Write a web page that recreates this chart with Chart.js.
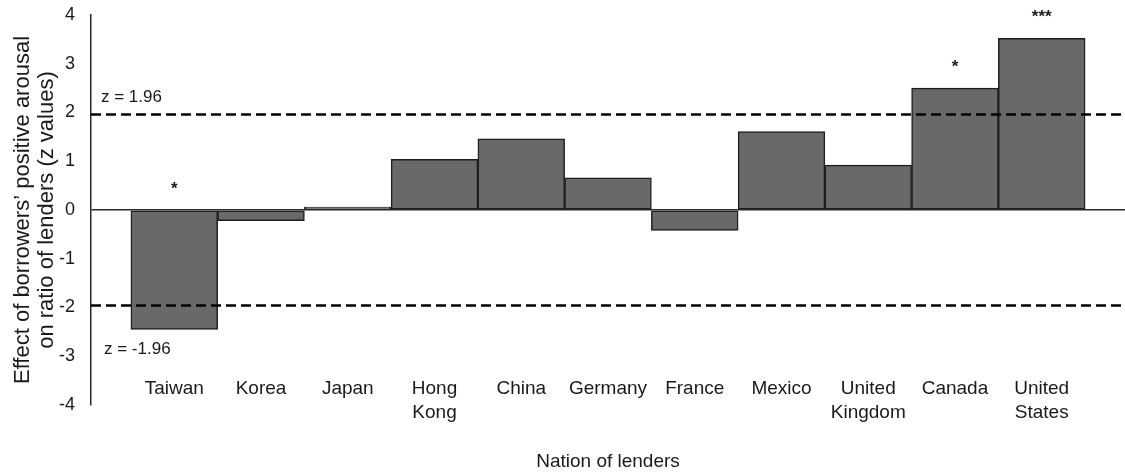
<!DOCTYPE html>
<html>
<head>
<meta charset="utf-8">
<script src="https://cdn.jsdelivr.net/npm/chart.js@4.4.1/dist/chart.umd.min.js"></script>
<style>
  html, body { margin: 0; padding: 0; background: #fff; }
  #wrap { width: 1125px; height: 473px; }
</style>
</head>
<body>
<div id="wrap"><canvas id="zChart"></canvas></div>
<script>
// data
const nations = [['Taiwan'], ['Korea'], ['Japan'], ['Hong', 'Kong'], ['China'], ['Germany'],
                 ['France'], ['Mexico'], ['United', 'Kingdom'], ['Canada'], ['United', 'States']];
const zValues = [-2.45, -0.22, 0.06, 1.04, 1.46, 0.66, -0.42, 1.61, 0.92, 2.50, 3.52];
const sigMarks = ['*', '', '', '', '', '', '', '', '', '*', '***'];
const thresholds = [1.96, -1.96];
const yTicks = [-4, -3, -2, -1, 0, 1, 2, 3, 4];

const FONT = '"Liberation Sans", Arial, sans-serif';

// dashed z lines, their labels and the stars above the bars
const annotations = {
    id: 'annotations',
    afterDatasetsDraw(chart) {
        const { ctx, chartArea, scales } = chart;
        const y = scales.y, x = scales.x;
        ctx.save();
        ctx.strokeStyle = '#000';
        ctx.lineWidth = 2.6;
        ctx.setLineDash([10, 5]);
        thresholds.forEach(t => {
            const py = y.getPixelForValue(t);
            ctx.beginPath();
            ctx.moveTo(chartArea.left, py);
            ctx.lineTo(chartArea.right, py);
            ctx.stroke();
        });
        ctx.setLineDash([]);

        ctx.fillStyle = '#1a1a1a';
        ctx.font = '17px ' + FONT;
        ctx.textAlign = 'left';
        ctx.textBaseline = 'middle';
        ctx.fillText('z = ' + thresholds[0], chartArea.left + 10, y.getPixelForValue(thresholds[0]) - 17);
        ctx.fillText('z = ' + thresholds[1], chartArea.left + 13, y.getPixelForValue(thresholds[1]) + 44);

        ctx.font = 'bold 17px ' + FONT;
        ctx.textAlign = 'center';
        ctx.textBaseline = 'alphabetic';
        sigMarks.forEach((m, i) => {
            if (!m) return;
            const top = y.getPixelForValue(Math.max(zValues[i], 0));
            ctx.fillText(m, x.getPixelForValue(i), top - 16);
        });
        ctx.restore();
    }
};

new Chart(document.getElementById('zChart'), {
    type: 'bar',
    data: {
        datasets: [{
            data: zValues.map((v, i) => ({ x: i, y: v })),
            backgroundColor: '#696969',
            borderColor: '#1e1e1e',
            borderWidth: 1.5,
            borderSkipped: false,
            barPercentage: 1,
            categoryPercentage: 1
        }]
    },
    options: {
        responsive: true,
        maintainAspectRatio: false,
        animation: false,
        layout: { autoPadding: false, padding: { left: 11, top: 15, right: 0, bottom: 0 } },
        plugins: {
            legend: { display: false },
            tooltip: { enabled: false }
        },
        scales: {
            x: {
                type: 'linear',
                offset: false,
                min: -0.96,
                max: 10.96,
                afterBuildTicks: axis => { axis.ticks = nations.map((n, i) => ({ value: i })); },
                afterFit: axis => { axis.height = 68; },
                grid: { display: false, drawTicks: false, offset: false },
                border: { display: false },
                ticks: {
                    autoSkip: false,
                    maxRotation: 0,
                    mirror: true,
                    padding: 4,
                    color: '#1a1a1a',
                    font: { family: FONT, size: 19, lineHeight: 1.25 },
                    callback: v => nations[v]
                },
                title: {
                    display: true,
                    text: 'Nation of lenders',
                    color: '#1a1a1a',
                    font: { family: FONT, size: 19 },
                    padding: { top: 41, bottom: 0 }
                }
            },
            y: {
                min: yTicks[0],
                max: yTicks[yTicks.length - 1],
                afterBuildTicks: axis => { axis.ticks = yTicks.map(v => ({ value: v })); },
                afterFit: axis => {
                    axis.width = 80;
                    axis.paddingTop = 0;
                    axis.paddingBottom = 0;
                },
                grid: {
                    drawTicks: false,
                    lineWidth: 1.5,
                    color: c => c.tick && c.tick.value === 0 ? '#2a2a2a' : 'rgba(0,0,0,0)'
                },
                border: { display: true, color: '#2a2a2a', width: 1.5 },
                ticks: {
                    padding: 16,
                    color: '#1a1a1a',
                    font: { family: FONT, size: 18 }
                },
                title: {
                    display: true,
                    text: ['Effect of borrowers\u2019 positive arousal', 'on ratio of lenders (z values)'],
                    color: '#1a1a1a',
                    font: { family: FONT, size: 22, lineHeight: 1.08 },
                    padding: { top: 0, bottom: 0 }
                }
            }
        }
    },
    plugins: [annotations]
});
</script>
</body>
</html>
